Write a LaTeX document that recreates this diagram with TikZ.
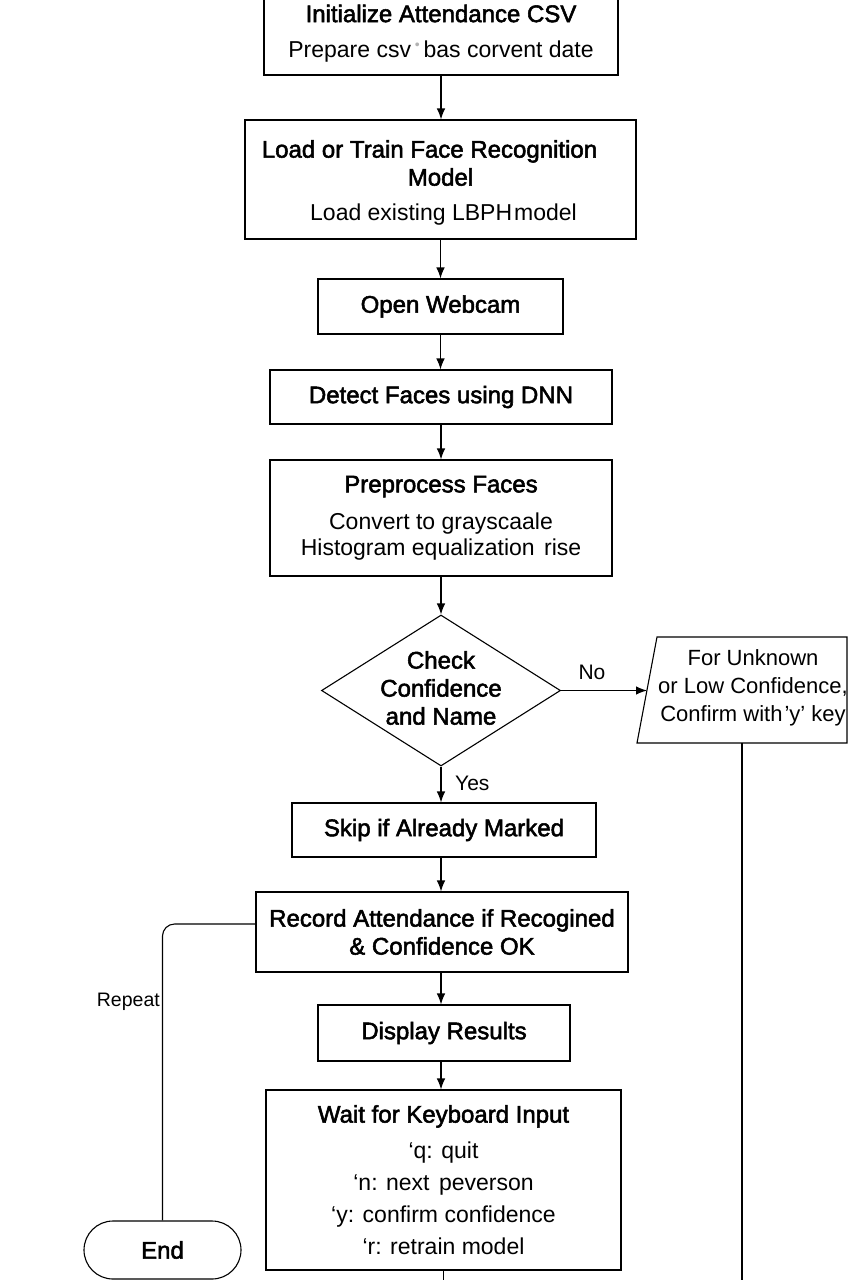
\documentclass[tikz,border=0pt]{standalone}
\usepackage{fontspec}
\setmainfont{Liberation Sans}
\newfontfamily\titlef{Liberation Sans}[FakeBold=2.2]
\usetikzlibrary{arrows.meta,shapes.geometric}
\newcommand\tsz{\fontsize{24}{28}\selectfont\titlef}
\newcommand\bsz{\fontsize{23}{28}\selectfont\rmfamily}
\begin{document}
\begin{tikzpicture}[x=1pt,y=-1pt,
  box/.style={draw, line width=1.1pt, align=center, inner sep=0pt, font=\fontsize{23}{28}\selectfont},
  tbox/.style={box, font=\tsz},
  txt/.style={align=center, inner sep=0pt, font=\fontsize{23}{28}\selectfont},
  lbl/.style={inner sep=0pt, font=\fontsize{21}{24}\selectfont},
  arr/.style={line width=1.1pt, -{Latex[length=11pt,width=8.5pt]}},
  ln/.style={line width=1.1pt}]
\fill[white] (0,0) rectangle (853,1280);
\useasboundingbox (0,0) rectangle (853,1280);

\node[box, minimum width=354, minimum height=88] (init) at (441,31)
  {\tsz\rule{0pt}{22pt}Initialize Attendance CSV\\[7pt] \bsz Prepare csv\,\textcolor{gray!60}{\raisebox{.35em}{\fontsize{14}{14}\selectfont\textbullet}}\,bas corvent date};
\node[box, minimum width=391, minimum height=119] (load) at (440.5,179.5)
  {\tsz\rule{0pt}{24pt}Load or Train Face Recognition\hspace*{22pt}\\ \tsz Model\hspace*{14pt}\\[7pt] \bsz Load existing LBPH\hspace{2pt}model\hspace*{-6pt}};
\node[tbox, minimum width=245, minimum height=55] (cam) at (440.5,306.5) {Open Webcam};
\node[tbox, minimum width=342, minimum height=54] (det) at (441,397) {Detect Faces using DNN};
\node[box, minimum width=342, minimum height=116] (pre) at (441,518)
  {\tsz Preprocess Faces\\[9pt] \bsz Convert to grayscaale\\[-2pt] \bsz Histogram equalization\hspace{3pt} rise};

\node[draw, diamond, line width=1.1pt, minimum width=239, minimum height=151, inner sep=0pt] (check) at (441,690.5) {};
\node[txt, font=\tsz] (checkt) at (441,688) {Check\\ Confidence\\ and Name};

\draw[ln] (657,637) coordinate (uTL) -- (847,637) coordinate (uTR) -- (847,743) coordinate (uBR) -- (637,743) coordinate (uBL) -- cycle;
\coordinate (unkin) at (647,690.5);
\coordinate (unkout) at (742,743);
\coordinate (bot1) at (742,1290);
\node[txt, font=\fontsize{22}{28}\selectfont] (unk) at (753,688) {For Unknown\\ or Low Confidence,\\ Confirm with\hspace{2pt}’y’ key};

\node[tbox, minimum width=304, minimum height=54] (skip) at (444,830) {Skip if Already Marked};
\node[tbox, minimum width=372, minimum height=80] (rec) at (442,932) {Record Attendance if Recogined\\ \& Confidence OK};
\node[tbox, minimum width=252, minimum height=56] (disp) at (444,1033) {Display Results};
\node[box, minimum width=355, minimum height=180] (wait) at (443.5,1180)
  {\tsz Wait for Keyboard Input\\[8pt] \bsz ‘q: quit\\[4pt] \bsz ‘n: next\hspace{3pt} peverson\\[4pt] \bsz ‘y: confirm confidence\\[4pt] \bsz ‘r: retrain model};
\node[draw, line width=1.1pt, rounded corners=29pt, minimum width=157, minimum height=58, font=\tsz] (endn) at (162.5,1250) {End};
\coordinate (bot2) at (443.5,1290);

\node[lbl] (no) at (592,672) {No};
\node[lbl, anchor=west] (yes) at (455,783) {Yes};
\node[inner sep=0pt, anchor=east, font=\fontsize{19.5}{22}\selectfont] (rep) at (160,1002) {Repeat};

\draw[arr] (init.south) -- (init.south |- load.north);
\draw[arr] (load.south) -- (load.south |- cam.north);
\draw[arr] (cam.south) -- (cam.south |- det.north);
\draw[arr] (det.south) -- (det.south |- pre.north);
\draw[arr] (pre.south) -- (check.north);
\draw[arr] (check.east) -- (unkin);
\draw[arr] (check.south) -- (check.south |- skip.north);
\draw[arr] (skip.south -| check.south) -- (check.south |- rec.north);
\draw[arr] (rec.south -| check.south) -- (check.south |- disp.north);
\draw[arr] (disp.south -| check.south) -- (check.south |- wait.north);
\draw[ln] (unkout) -- (bot1);
\draw[ln] (wait.south) -- (bot2);
\draw[ln, rounded corners=12pt] ([yshift=8pt]rec.west) -| (endn.north);
\end{tikzpicture}
\end{document}
